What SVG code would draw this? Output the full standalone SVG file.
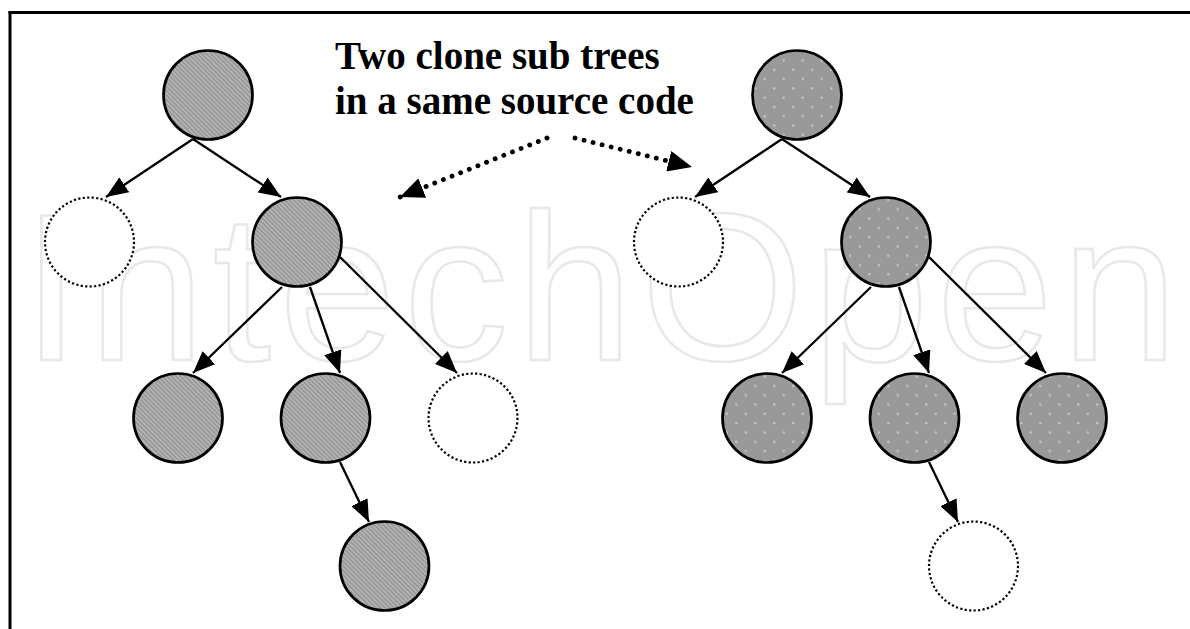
<svg xmlns="http://www.w3.org/2000/svg" width="1190" height="629" viewBox="0 0 1190 629">
  <defs>
    <pattern id="hatch" width="3.2" height="3.2" patternUnits="userSpaceOnUse" patternTransform="rotate(-45)">
      <rect width="3.2" height="3.2" fill="#979797"/>
      <rect width="1.4" height="3.2" fill="#b8b8b8"/>
    </pattern>
    <pattern id="dots" width="19" height="18.6" patternUnits="userSpaceOnUse">
      <rect width="19" height="18.6" fill="#999999"/>
      <circle cx="4.75" cy="4.65" r="1.2" fill="#c8c8c8"/>
      <circle cx="14.25" cy="13.95" r="1.2" fill="#c8c8c8"/>
    </pattern>
    <marker id="ah" viewBox="0 0 22 18" refX="22" refY="9" markerWidth="22" markerHeight="18" markerUnits="userSpaceOnUse" orient="auto">
      <path d="M0,0 L22,9 L0,18 z" fill="#000"/>
    </marker>
    <marker id="ahBig" viewBox="0 0 24 21" refX="24" refY="10.5" markerWidth="24" markerHeight="21" markerUnits="userSpaceOnUse" orient="auto">
      <path d="M0,0 L24,10.5 L0,21 z" fill="#000"/>
    </marker>
  </defs>
  <style>
    .node { stroke: #000; stroke-width: 2.7; }
    .hatch { fill: url(#hatch); }
    .dotfill { fill: url(#dots); }
    .empty { fill: #fff; stroke: #000; stroke-width: 2.2; stroke-dasharray: 2.2 2.3; }
    .edge { stroke: #000; stroke-width: 2.3; fill: none; marker-end: url(#ah); }
    .pointer { stroke: #000; stroke-width: 4.8; fill: none; stroke-linecap: round; stroke-dasharray: 0.1 9.2; marker-end: url(#ahBig); }
    .title { font-family: "Liberation Serif", "Times New Roman", serif; font-weight: bold; font-size: 39px; fill: #000; }
    .wm { font-family: "Liberation Sans", Arial, sans-serif; font-size: 210px; fill: #fff; stroke: #e8e8e8; stroke-width: 2.5; }
  </style>
  <rect width="1190" height="629" fill="#fff"/>
  <g id="frame">
    <line x1="8.5" y1="12.5" x2="1190" y2="12.5" stroke="#000" stroke-width="3"/>
    <line x1="10" y1="11" x2="10" y2="629" stroke="#000" stroke-width="3"/>
  </g>
  <g id="watermark">
    <text class="wm" x="22" y="360" textLength="1156" lengthAdjust="spacing">IntechOpen</text>
  </g>
  <g id="label">
    <text class="title" x="335" y="69">Two clone sub trees</text>
    <text class="title" x="335" y="114">in a same source code</text>
  </g>
  <g id="left-tree">
    <g id="L-root"><circle class="node hatch" cx="208" cy="95" r="44.5"/></g>
    <g id="L-a"><circle class="empty" cx="89.5" cy="242" r="44.5"/></g>
    <g id="L-b"><circle class="node hatch" cx="297" cy="242" r="44.5"/></g>
    <g id="L-b1"><circle class="node hatch" cx="178" cy="418" r="44.5"/></g>
    <g id="L-b2"><circle class="node hatch" cx="325.5" cy="418" r="44.5"/></g>
    <g id="L-b3"><circle class="empty" cx="473" cy="418" r="44.5"/></g>
    <g id="L-b2a"><circle class="node hatch" cx="384.5" cy="566" r="44.5"/></g>
  </g>
  <g id="right-tree">
    <g id="R-root"><circle class="node dotfill" cx="797" cy="95" r="44.5"/></g>
    <g id="R-a"><circle class="empty" cx="678.5" cy="242" r="44.5"/></g>
    <g id="R-b"><circle class="node dotfill" cx="886" cy="242" r="44.5"/></g>
    <g id="R-b1"><circle class="node dotfill" cx="767" cy="418" r="44.5"/></g>
    <g id="R-b2"><circle class="node dotfill" cx="914.5" cy="418" r="44.5"/></g>
    <g id="R-b3"><circle class="node dotfill" cx="1062" cy="418" r="44.5"/></g>
    <g id="R-b2a"><circle class="empty" cx="973.5" cy="566" r="44.5"/></g>
  </g>
  <g id="connectors">
    <path class="edge" d="M193,139 L106,197"/>
    <path class="edge" d="M193,139 L281,197"/>
    <path class="edge" d="M282,287 L193,373"/>
    <path class="edge" d="M310,287 L340,373"/>
    <path class="edge" d="M340,257 L457,373"/>
    <path class="edge" d="M340,462 L369,522"/>
    <path class="edge" d="M782,139 L695,197"/>
    <path class="edge" d="M782,139 L870,197"/>
    <path class="edge" d="M871,287 L782,373"/>
    <path class="edge" d="M899,287 L929,373"/>
    <path class="edge" d="M929,257 L1046,373"/>
    <path class="edge" d="M929,462 L958,522"/>
    <path class="pointer" d="M547,138 L400,197"/>
    <path class="pointer" d="M575,138 L692,167"/>
  </g>
</svg>
